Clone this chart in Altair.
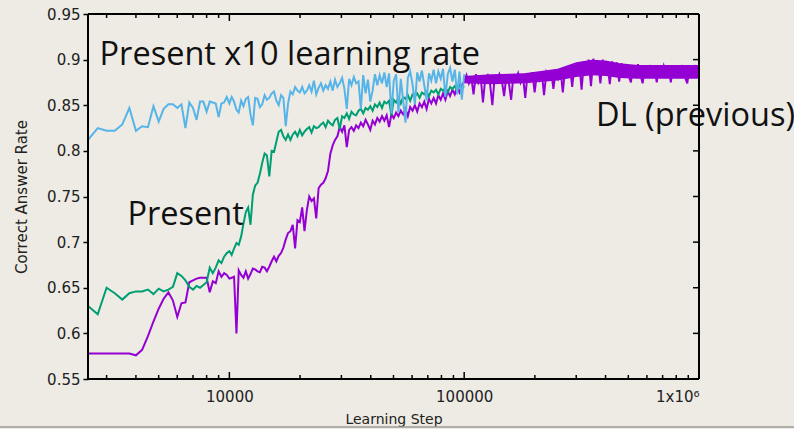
import altair as alt
import pandas as pd

# ---------------- data ----------------
SERIES = ["DL (previous)", "Present", "Present x10 learning rate"]
COLORS = ["#9400D3", "#009E73", "#56B4E9"]

STEPS_EARLY = [2500, 2750, 3000, 3250, 3500, 3750, 4000, 4250, 4500, 4750,
               5000, 5250, 5500, 5750, 6000, 6250, 6500, 6750, 7000, 7250,
               7500, 7750, 8000, 8250, 8500, 8750, 9000, 9250, 9500, 9750]

STEPS_MID = [10000, 10230, 10470, 10720, 10960, 11220, 11480, 11750, 12020, 12300,
             12590, 12880, 13180, 13490, 13800, 14130, 14450, 14790, 15140, 15490,
             15850, 16220, 16600, 16980, 17380, 17780, 18200, 18620, 19050, 19500,
             19950, 20420, 20890, 21380, 21880, 22390, 22910, 23440, 23990, 24550,
             25120, 25700, 26300, 26920, 27540, 28180, 28840, 29510, 30200, 30900,
             31620, 32360, 33110, 33880, 34670, 35480, 36310, 37150, 38020, 38900,
             39810, 40740, 41690, 42660, 43650, 44670, 45710, 46770, 47860, 48980,
             50120, 51290, 52480, 53700, 54950, 56230, 57540, 58880, 60260, 61660,
             63100, 64570, 66070, 67610, 69180, 70790, 72440, 74130, 75860, 77620,
             79430, 81280, 83180, 85110, 87100, 89130, 91200, 93330, 95500, 97720]

STEPS_LATE = [100000, 102300, 104700, 107200, 109600, 112200, 114800, 117500, 120200, 123000,
              125900, 128800, 131800, 134900, 138000, 141300, 144500, 147900, 151400, 154900,
              158500, 162200, 166000, 169800, 173800, 177800, 182000, 186200, 190500, 195000,
              199500, 204200, 208900, 213800, 218800, 223900, 229100, 234400, 239900, 245500,
              251200, 257000, 263000, 269200, 275400, 281800, 288400, 295100, 302000, 309000,
              316200, 323600, 331100, 338800, 346700, 354800, 363100, 371500, 380200, 389000,
              398100, 407400, 416900, 426600, 436500, 446700, 457100, 467700, 478600, 489800,
              501200, 512900, 524800, 537000, 549500, 562300, 575400, 588800, 602600, 616600,
              631000, 645700, 660700, 676100, 691800, 707900, 724400, 741300, 758600, 776200,
              794300, 812800, 831800, 851100, 871000, 891300, 912000, 933300, 955000, 977200,
              1000000]

BLUE_RATE = [0.812, 0.825, 0.822, 0.822, 0.829, 0.847, 0.822, 0.827, 0.826, 0.849,
             0.832, 0.846, 0.851, 0.851, 0.847, 0.851, 0.825, 0.853, 0.847, 0.834,
             0.854, 0.854, 0.843, 0.854, 0.853, 0.852, 0.837, 0.852, 0.853, 0.859,
             0.852, 0.859, 0.854, 0.845, 0.842, 0.855, 0.849, 0.857, 0.859, 0.840,
             0.828, 0.858, 0.857, 0.848, 0.851, 0.861, 0.856, 0.858, 0.863, 0.865,
             0.855, 0.850, 0.861, 0.858, 0.827, 0.852, 0.865, 0.862, 0.870, 0.866,
             0.864, 0.870, 0.863, 0.866, 0.872, 0.865, 0.877, 0.862, 0.869, 0.874,
             0.866, 0.872, 0.868, 0.876, 0.866, 0.878, 0.870, 0.874, 0.880, 0.868,
             0.846, 0.879, 0.872, 0.881, 0.874, 0.876, 0.846, 0.883, 0.863, 0.878,
             0.854, 0.866, 0.884, 0.872, 0.883, 0.874, 0.886, 0.870, 0.885, 0.841,
             0.877, 0.884, 0.842, 0.879, 0.856, 0.831, 0.880, 0.887, 0.873, 0.851,
             0.886, 0.876, 0.888, 0.872, 0.855, 0.885, 0.877, 0.889, 0.874, 0.887,
             0.879, 0.890, 0.859, 0.884, 0.891, 0.876, 0.889, 0.862, 0.887, 0.856,
             0.884]

GREEN_RATE = [0.630, 0.621, 0.650, 0.644, 0.637, 0.644, 0.646, 0.646, 0.648, 0.643,
              0.649, 0.646, 0.648, 0.651, 0.666, 0.663, 0.658, 0.651, 0.648, 0.652,
              0.650, 0.653, 0.656, 0.672, 0.666, 0.672, 0.680, 0.677, 0.684, 0.688,
              0.690, 0.686, 0.693, 0.699, 0.697, 0.706, 0.720, 0.733, 0.738, 0.719,
              0.752, 0.762, 0.765, 0.775, 0.787, 0.797, 0.795, 0.772, 0.800, 0.799,
              0.810, 0.821, 0.823, 0.816, 0.812, 0.818, 0.812, 0.818, 0.821, 0.816,
              0.823, 0.817, 0.821, 0.824, 0.826, 0.820, 0.827, 0.825, 0.826, 0.829,
              0.831, 0.826, 0.833, 0.830, 0.828, 0.834, 0.836, 0.824, 0.838, 0.836,
              0.841, 0.835, 0.843, 0.840, 0.839, 0.844, 0.846, 0.841, 0.847, 0.845,
              0.849, 0.844, 0.851, 0.848, 0.853, 0.847, 0.854, 0.852, 0.855, 0.839,
              0.856, 0.853, 0.858, 0.852, 0.859, 0.857, 0.861, 0.855, 0.862, 0.860,
              0.863, 0.858, 0.864, 0.862, 0.865, 0.860, 0.866, 0.864, 0.867, 0.862,
              0.868, 0.866, 0.869, 0.864, 0.870, 0.868, 0.871, 0.866, 0.872, 0.869,
              0.871]

PURPLE_RATE = [0.578, 0.578, 0.578, 0.578, 0.578, 0.578, 0.576, 0.582, 0.597, 0.613,
               0.627, 0.638, 0.645, 0.636, 0.618, 0.633, 0.634, 0.656, 0.658, 0.660,
               0.661, 0.661, 0.661, 0.645, 0.657, 0.655, 0.668, 0.662, 0.666, 0.664,
               0.660, 0.661, 0.662, 0.600, 0.669, 0.664, 0.661, 0.668, 0.660, 0.665,
               0.671, 0.670, 0.668, 0.667, 0.673, 0.672, 0.668, 0.673, 0.679, 0.684,
               0.679, 0.685, 0.688, 0.694, 0.703, 0.710, 0.712, 0.719, 0.693, 0.724,
               0.722, 0.738, 0.712, 0.735, 0.750, 0.745, 0.748, 0.726, 0.759, 0.763,
               0.765, 0.770, 0.778, 0.797, 0.806, 0.812, 0.816, 0.826, 0.821, 0.828,
               0.804, 0.823, 0.826, 0.822, 0.828, 0.825, 0.831, 0.827, 0.834, 0.829,
               0.823, 0.833, 0.829, 0.836, 0.832, 0.838, 0.833, 0.839, 0.826, 0.840,
               0.836, 0.842, 0.838, 0.844, 0.840, 0.846, 0.838, 0.848, 0.844, 0.850,
               0.843, 0.852, 0.848, 0.854, 0.846, 0.857, 0.852, 0.858, 0.852, 0.861,
               0.856, 0.863, 0.856, 0.865, 0.860, 0.867, 0.862, 0.870, 0.864, 0.872,
               0.876, 0.883, 0.874, 0.881, 0.862, 0.884, 0.875, 0.882, 0.853, 0.880,
               0.883, 0.874, 0.850, 0.882, 0.876, 0.884, 0.878, 0.860, 0.883, 0.875,
               0.856, 0.884, 0.877, 0.885, 0.875, 0.883, 0.858, 0.885, 0.877, 0.886,
               0.864, 0.885, 0.878, 0.887, 0.861, 0.886, 0.880, 0.888, 0.868, 0.889,
               0.880, 0.890, 0.864, 0.891, 0.883, 0.893, 0.870, 0.895, 0.885, 0.897,
               0.867, 0.898, 0.887, 0.900, 0.871, 0.901, 0.888, 0.899, 0.874, 0.900,
               0.887, 0.898, 0.873, 0.898, 0.886, 0.897, 0.876, 0.896, 0.884, 0.895,
               0.883, 0.875, 0.894, 0.882, 0.895, 0.884, 0.874, 0.893, 0.882, 0.894,
               0.883, 0.893, 0.875, 0.894, 0.882, 0.893, 0.884, 0.892, 0.875, 0.894,
               0.882, 0.893, 0.883, 0.894, 0.881, 0.874, 0.893, 0.882, 0.894, 0.883,
               0.888]

# envelope of the densely sampled DL run beyond 100000 steps (reads as a solid band)
PURPLE_BAND_STEP = [100000, 130000, 180000, 250000, 300000, 350000, 400000, 460000,
                    550000, 700000, 1000000]
PURPLE_BAND_LO = [0.874, 0.873, 0.874, 0.877, 0.881, 0.883, 0.882, 0.880, 0.879, 0.879, 0.879]
PURPLE_BAND_HI = [0.882, 0.884, 0.885, 0.890, 0.897, 0.900, 0.899, 0.896, 0.894, 0.894, 0.894]

X_MAJOR = [10000, 100000, 1000000]
X_MINOR = [3000, 4000, 5000, 6000, 7000, 8000, 9000,
           20000, 30000, 40000, 50000, 60000, 70000, 80000, 90000,
           200000, 300000, 400000, 500000, 600000, 700000, 800000, 900000]
Y_TICKS = [0.55, 0.6, 0.65, 0.7, 0.75, 0.8, 0.85, 0.9, 0.95]

ANN_TEXT = ["Present x10 learning rate", "Present", "DL (previous)"]
ANN_STEP = [2800, 3680, 364600]
ANN_RATE = [0.894, 0.719, 0.827]

# ---------------- build ----------------
W, H = 611, 365
BG = "#EEEBE4"
LABEL_FONT = "DejaVu Sans"
BIG_FONT = "Open Sans"

present_steps = STEPS_EARLY + STEPS_MID + STEPS_LATE[:1]
dl_steps = STEPS_EARLY + STEPS_MID + STEPS_LATE


def frame(steps, rates, name):
    n = min(len(steps), len(rates))
    return pd.DataFrame({"step": steps[:n], "rate": rates[:n], "series": [name] * n})


def band(steps, lo, hi, name):
    n = min(len(steps), len(lo), len(hi))
    return pd.DataFrame({"step": steps[:n], "lo": lo[:n], "hi": hi[:n], "series": [name] * n})


xscale = alt.Scale(type="log", domain=[2500, 1000000], nice=False)
yscale = alt.Scale(domain=[0.55, 0.95], nice=False, zero=False)
cscale = alt.Scale(domain=SERIES, range=COLORS)

x_axis = alt.Axis(values=X_MAJOR, title="Learning Step", grid=False, domain=False,
                  tickSize=0, labelPadding=10,
                  labelExpr="datum.value >= 1000000 ? '1x10\u2076' : format(datum.value, 'd')",
                  labelFont=LABEL_FONT, labelFontSize=15, labelColor="#222222",
                  titleFont=LABEL_FONT, titleFontSize=14, titleFontWeight="normal",
                  titleColor="#222222", titlePadding=8)
y_axis = alt.Axis(values=Y_TICKS, format=".2~f", title="Correct Answer Rate", grid=False,
                  domain=False, tickSize=5, tickWidth=1.5, tickColor="black",
                  labelPadding=3, labelFont=LABEL_FONT, labelFontSize=15, labelColor="#222222",
                  titleFont=LABEL_FONT, titleFontSize=15, titleFontWeight="normal",
                  titleColor="#222222", titlePadding=17)

X = lambda f="step": alt.X(f"{f}:Q", scale=xscale, axis=x_axis, title="Learning Step")
Y = lambda f="rate": alt.Y(f"{f}:Q", scale=yscale, axis=y_axis, title="Correct Answer Rate")
C = alt.Color("series:N", scale=cscale, legend=None)


def line_layer(df):
    return alt.Chart(df).mark_line(strokeWidth=2, clip=True).encode(x=X(), y=Y(), color=C)


def band_layer(df):
    return alt.Chart(df).mark_area(opacity=1, clip=True).encode(
        x=X(), y=Y("lo"), y2="hi:Q", color=C)


layers = [
    band_layer(band(PURPLE_BAND_STEP, PURPLE_BAND_LO, PURPLE_BAND_HI, SERIES[0])),
    line_layer(frame(dl_steps, PURPLE_RATE, SERIES[0])),
    line_layer(frame(present_steps, GREEN_RATE, SERIES[1])),
    line_layer(frame(present_steps, BLUE_RATE, SERIES[2])),
]

major_df = pd.DataFrame({"step": X_MAJOR})
minor_df = pd.DataFrame({"step": X_MINOR})
ytick_df = pd.DataFrame({"rate": Y_TICKS})
one = pd.DataFrame({"a": [0]})


def xticks(df, y0, y1):
    return alt.Chart(df).mark_rule(color="black", strokeWidth=1.5).encode(
        x=X(), y=alt.value(y0), y2=alt.value(y1))


layers += [
    xticks(major_df, H, H - 7), xticks(minor_df, H, H - 4),
    xticks(major_df, 0, 7), xticks(minor_df, 0, 4),
    alt.Chart(ytick_df).mark_rule(color="black", strokeWidth=1.5).encode(
        y=Y(), x=alt.value(W), x2=alt.value(W - 6)),
]

layers.append(
    alt.Chart(pd.DataFrame({"text": ANN_TEXT, "step": ANN_STEP, "rate": ANN_RATE})).mark_text(
        align="left", baseline="alphabetic", font=BIG_FONT, fontSize=32.5, color="#111111"
    ).encode(x=X(), y=Y(), text="text:N")
)


def border(**enc):
    return alt.Chart(one).mark_rule(color="black", strokeWidth=2).encode(**enc)


layers += [
    border(x=alt.value(0), y=alt.value(0), y2=alt.value(H)),
    border(x=alt.value(W), y=alt.value(0), y2=alt.value(H)),
    border(x=alt.value(0), x2=alt.value(W), y=alt.value(0)),
    border(x=alt.value(0), x2=alt.value(W), y=alt.value(H)),
    alt.Chart(one).mark_rule(color="#9C9A94", strokeWidth=1.5).encode(
        x=alt.value(-88), x2=alt.value(706), y=alt.value(413)),
]

chart = alt.layer(*layers).properties(
    width=W, height=H,
    padding={"left": 88, "top": 14, "right": 95, "bottom": 50},
    autosize="none",
).configure(background=BG).configure_view(stroke=None)

chart.save("out.html", embed_options={"renderer": "svg", "actions": False})
